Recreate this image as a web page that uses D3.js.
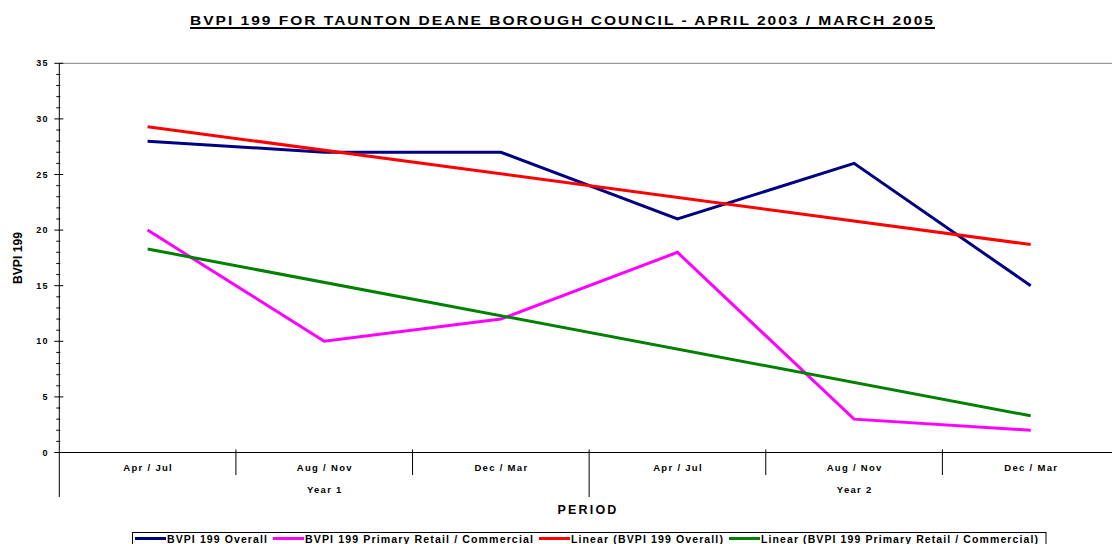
<!DOCTYPE html>
<html>
<head>
<meta charset="utf-8">
<script src="https://cdn.jsdelivr.net/npm/d3@7"></script>
<style>
  body { margin: 0; background: #fff; }
  text { font-family: 'Liberation Sans', Arial, sans-serif; font-weight: bold; fill: #000; }
</style>
</head>
<body>
<svg id="chart" width="1112" height="544"></svg>
<script>
'use strict';

// chart data
const years = ['Year 1', 'Year 2'];
const periods = ['Apr / Jul', 'Aug / Nov', 'Dec / Mar'];
const overall = [28, 27, 27, 21, 26, 15];
const retail = [20, 10, 12, 18, 3, 2];
// trend lines, value at the first and last period
const overallTrend = [29.3, 18.7];
const retailTrend = [18.3, 3.3];
const yTicks = [0, 5, 10, 15, 20, 25, 30, 35];

const svg = d3.select('#chart');

// plot area: the right side runs off the picture, as in the original
const plotLeft = 59.3;
const plotRight = 1119;
const plotTop = 63.3;
const plotBottom = 452.5;

const slots = d3.range(years.length * periods.length);
const x = d3.scaleBand().domain(slots).range([plotLeft, plotRight]);
const cx = i => x(i) + x.bandwidth() / 2;
const sepX = i => plotLeft + i * x.bandwidth();
const y = d3.scaleLinear().domain([0, 35]).range([plotBottom, plotTop]);

// title
svg.append('text')
  .attr('x', 562.5)
  .attr('y', 24.5)
  .attr('text-anchor', 'middle')
  .attr('font-size', 12.5)
  .attr('letter-spacing', 1.6)
  .attr('textLength', 745)
  .attr('lengthAdjust', 'spacingAndGlyphs')
  .text('BVPI 199 FOR TAUNTON DEANE BOROUGH COUNCIL - APRIL 2003 / MARCH 2005');
svg.append('line')
  .attr('x1', 190).attr('x2', 935)
  .attr('y1', 28).attr('y2', 28)
  .attr('stroke', '#000').attr('stroke-width', 2);

// top border of the plot area
svg.append('line')
  .attr('x1', plotLeft).attr('x2', 1112)
  .attr('y1', plotTop).attr('y2', plotTop)
  .attr('stroke', '#808080').attr('stroke-width', 1);

// y axis
svg.append('line')
  .attr('x1', plotLeft).attr('x2', plotLeft)
  .attr('y1', plotTop).attr('y2', 497)
  .attr('stroke', '#000').attr('stroke-width', 1);

svg.selectAll('.minor')
  .data(d3.range(0, 36).filter(v => v % 5 !== 0))
  .join('line')
  .attr('class', 'minor')
  .attr('x1', plotLeft - 3).attr('x2', plotLeft + 1)
  .attr('y1', d => y(d)).attr('y2', d => y(d))
  .attr('stroke', '#000');

svg.selectAll('.major')
  .data(yTicks)
  .join('line')
  .attr('class', 'major')
  .attr('x1', plotLeft - 5).attr('x2', plotLeft + 4)
  .attr('y1', d => y(d)).attr('y2', d => y(d))
  .attr('stroke', '#000');

svg.selectAll('.ylab')
  .data(yTicks)
  .join('text')
  .attr('class', 'ylab')
  .attr('x', 49)
  .attr('y', d => y(d))
  .attr('dy', '0.35em')
  .attr('text-anchor', 'end')
  .attr('font-size', 9)
  .attr('letter-spacing', 1.4)
  .text(d => d);

svg.append('text')
  .attr('transform', 'translate(21.5,258) rotate(-90)')
  .attr('text-anchor', 'middle')
  .attr('font-size', 13)
  .attr('textLength', 52)
  .attr('lengthAdjust', 'spacingAndGlyphs')
  .text('BVPI 199');

// x axis
svg.append('line')
  .attr('x1', plotLeft).attr('x2', 1112)
  .attr('y1', plotBottom).attr('y2', plotBottom)
  .attr('stroke', '#000').attr('stroke-width', 1);

// separators between periods, longer ones between years
svg.selectAll('.sep')
  .data(d3.range(1, slots.length + 1))
  .join('line')
  .attr('class', 'sep')
  .attr('x1', d => sepX(d))
  .attr('x2', d => sepX(d))
  .attr('y1', plotBottom - 3)
  .attr('y2', d => d % periods.length === 0 ? 497 : 475)
  .attr('stroke', '#000');

svg.selectAll('.xlab')
  .data(slots)
  .join('text')
  .attr('class', 'xlab')
  .attr('x', d => cx(d) + 0.6)
  .attr('y', 470.5)
  .attr('text-anchor', 'middle')
  .attr('font-size', 9.5)
  .attr('letter-spacing', 1.3)
  .text(d => periods[d % periods.length]);

svg.selectAll('.year')
  .data(years)
  .join('text')
  .attr('class', 'year')
  .attr('x', (d, i) => cx(i * periods.length + 1) + 0.6)
  .attr('y', 492.5)
  .attr('text-anchor', 'middle')
  .attr('font-size', 9.5)
  .attr('letter-spacing', 1.3)
  .text(d => d);

svg.append('text')
  .attr('x', 588)
  .attr('y', 514)
  .attr('text-anchor', 'middle')
  .attr('font-size', 12.5)
  .attr('letter-spacing', 2.2)
  .text('PERIOD');

// series
const line = d3.line().x(d => cx(d.i)).y(d => y(d.v));
const last = slots.length - 1;

const series = [
  { name: 'BVPI 199 Overall', color: '#000080', pts: overall.map((v, i) => ({ i, v })) },
  { name: 'BVPI 199 Primary Retail / Commercial', color: '#ff00ff', pts: retail.map((v, i) => ({ i, v })) },
  { name: 'Linear (BVPI 199 Overall)', color: '#ff0000', pts: [{ i: 0, v: overallTrend[0] }, { i: last, v: overallTrend[1] }] },
  { name: 'Linear (BVPI 199 Primary Retail / Commercial)', color: '#008000', pts: [{ i: 0, v: retailTrend[0] }, { i: last, v: retailTrend[1] }] }
];

svg.selectAll('.series')
  .data(series)
  .join('path')
  .attr('class', 'series')
  .attr('d', d => line(d.pts))
  .attr('fill', 'none')
  .attr('stroke', d => d.color)
  .attr('stroke-width', 3)
  .attr('stroke-linejoin', 'miter');

// legend
const legendWidths = [101, 229, 153, 278];
svg.append('rect')
  .attr('x', 132.5).attr('y', 532.5)
  .attr('width', 913.5).attr('height', 30)
  .attr('fill', '#fff').attr('stroke', '#000');

let lx = 135;
series.forEach((s, i) => {
  svg.append('line')
    .attr('x1', lx).attr('x2', lx + 31)
    .attr('y1', 538.5).attr('y2', 538.5)
    .attr('stroke', s.color).attr('stroke-width', 3);
  svg.append('text')
    .attr('x', lx + 32)
    .attr('y', 542.5)
    .attr('font-size', 10.5)
    .attr('letter-spacing', 1.1)
    .attr('textLength', legendWidths[i])
    .attr('lengthAdjust', 'spacingAndGlyphs')
    .text(s.name);
  lx += 31 + 1 + legendWidths[i] + 5;
});
</script>
</body>
</html>
